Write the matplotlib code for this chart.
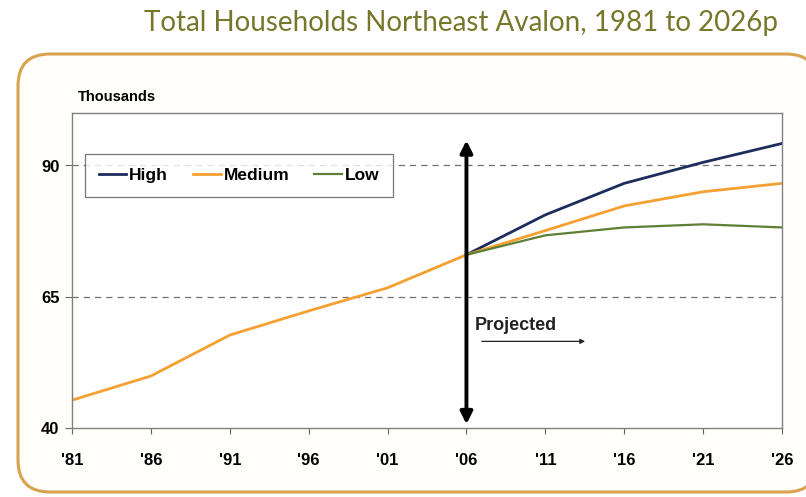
import matplotlib
matplotlib.use('Agg')
import matplotlib.pyplot as plt
from matplotlib.patches import FancyBboxPatch

# data (thousands of households)
hist_years = [1981, 1986, 1991, 1996, 2001, 2006]
hist_medium = [45.3, 49.9, 57.7, 62.3, 66.7, 73.0]

proj_years = [2006, 2011, 2016, 2021, 2026]
high = [73.0, 80.6, 86.6, 90.6, 94.2]
medium = [73.0, 77.6, 82.3, 85.0, 86.6]
low = [73.0, 76.7, 78.2, 78.8, 78.2]

xticks = [1981, 1986, 1991, 1996, 2001, 2006, 2011, 2016, 2021, 2026]
xlabels = ["'81", "'86", "'91", "'96", "'01", "'06", "'11", "'16", "'21", "'26"]
yticks = [40, 65, 90]

W, H = 806, 497
fig = plt.figure(figsize=(W / 100, H / 100), dpi=100)
fig.patch.set_facecolor('white')

# background panel with rounded border (pixel coords)
bg = fig.add_axes([0, 0, 1, 1], zorder=0)
bg.set_xlim(0, W)
bg.set_ylim(H, 0)
bg.axis('off')
bg.add_patch(FancyBboxPatch((18, 54), 800, 438, boxstyle="round,pad=0,rounding_size=32",
                            fc='#fffefa', ec='#d9a24e', lw=2.2))
bg.text(461, 23, 'Total Households Northeast Avalon, 1981 to 2026p', ha='center', va='center',
        fontsize=20, color='#77772c', family='Lato')
bg.text(78, 97, 'Thousands', ha='left', va='center', fontsize=10.5, fontweight='bold',
        family='Liberation Sans', stretch='condensed')

ax = fig.add_axes([72 / W, (H - 428) / H, 710 / W, 315 / H], zorder=1)
ax.set_facecolor('white')
ax.plot(hist_years, hist_medium, color='#f5a031', lw=2)
ax.plot(proj_years, high, color='#1c2d5c', lw=2, label='High')
ax.plot(proj_years, medium, color='#f5a031', lw=2, label='Medium')
ax.plot(proj_years, low, color='#5f7f35', lw=1.6, label='Low')

ax.set_xlim(1981, 2026)
ax.set_ylim(40, 100)
for yv in [65, 90]:
    ax.axhline(yv, color='#707070', ls=(0, (5, 4)), lw=0.9, zorder=0)

ax.set_xticks(xticks)
ax.set_xticklabels(xlabels)
ax.set_yticks(yticks)
for lab in ax.get_xticklabels() + ax.get_yticklabels():
    lab.set_fontweight('bold')
    lab.set_family('Liberation Sans')
    lab.set_fontsize(12)
ax.tick_params(axis='x', length=4, pad=14, color='#666666')
ax.tick_params(axis='y', length=5, pad=4, color='#666666')
for s in ax.spines.values():
    s.set_color('#808080')
    s.set_linewidth(1)

# projection divider arrow
ax.annotate('', xy=(2006, 95.3), xytext=(2006, 40.2),
            arrowprops=dict(arrowstyle='<|-|>', lw=2.8, color='black', mutation_scale=18))
ax.text(2006.5, 57.9, 'Projected', fontsize=13, fontweight='bold', family='Liberation Sans',
        color='#222222', va='bottom')
ax.annotate('', xy=(2013.7, 56.5), xytext=(2006.8, 56.5),
            arrowprops=dict(arrowstyle='-|>', lw=0.9, color='#222222', mutation_scale=7))

leg = ax.legend(loc='upper left', bbox_to_anchor=(0.018, 0.87), borderaxespad=0, ncol=3,
                frameon=True, fancybox=False, edgecolor='#555555', handlelength=1.6,
                handletextpad=0.15, columnspacing=1.45, borderpad=0.8,
                prop={'family': 'Liberation Sans', 'weight': 'bold', 'size': 12.5})
leg.get_frame().set_linewidth(0.9)

fig.savefig('out.png', dpi=100)
